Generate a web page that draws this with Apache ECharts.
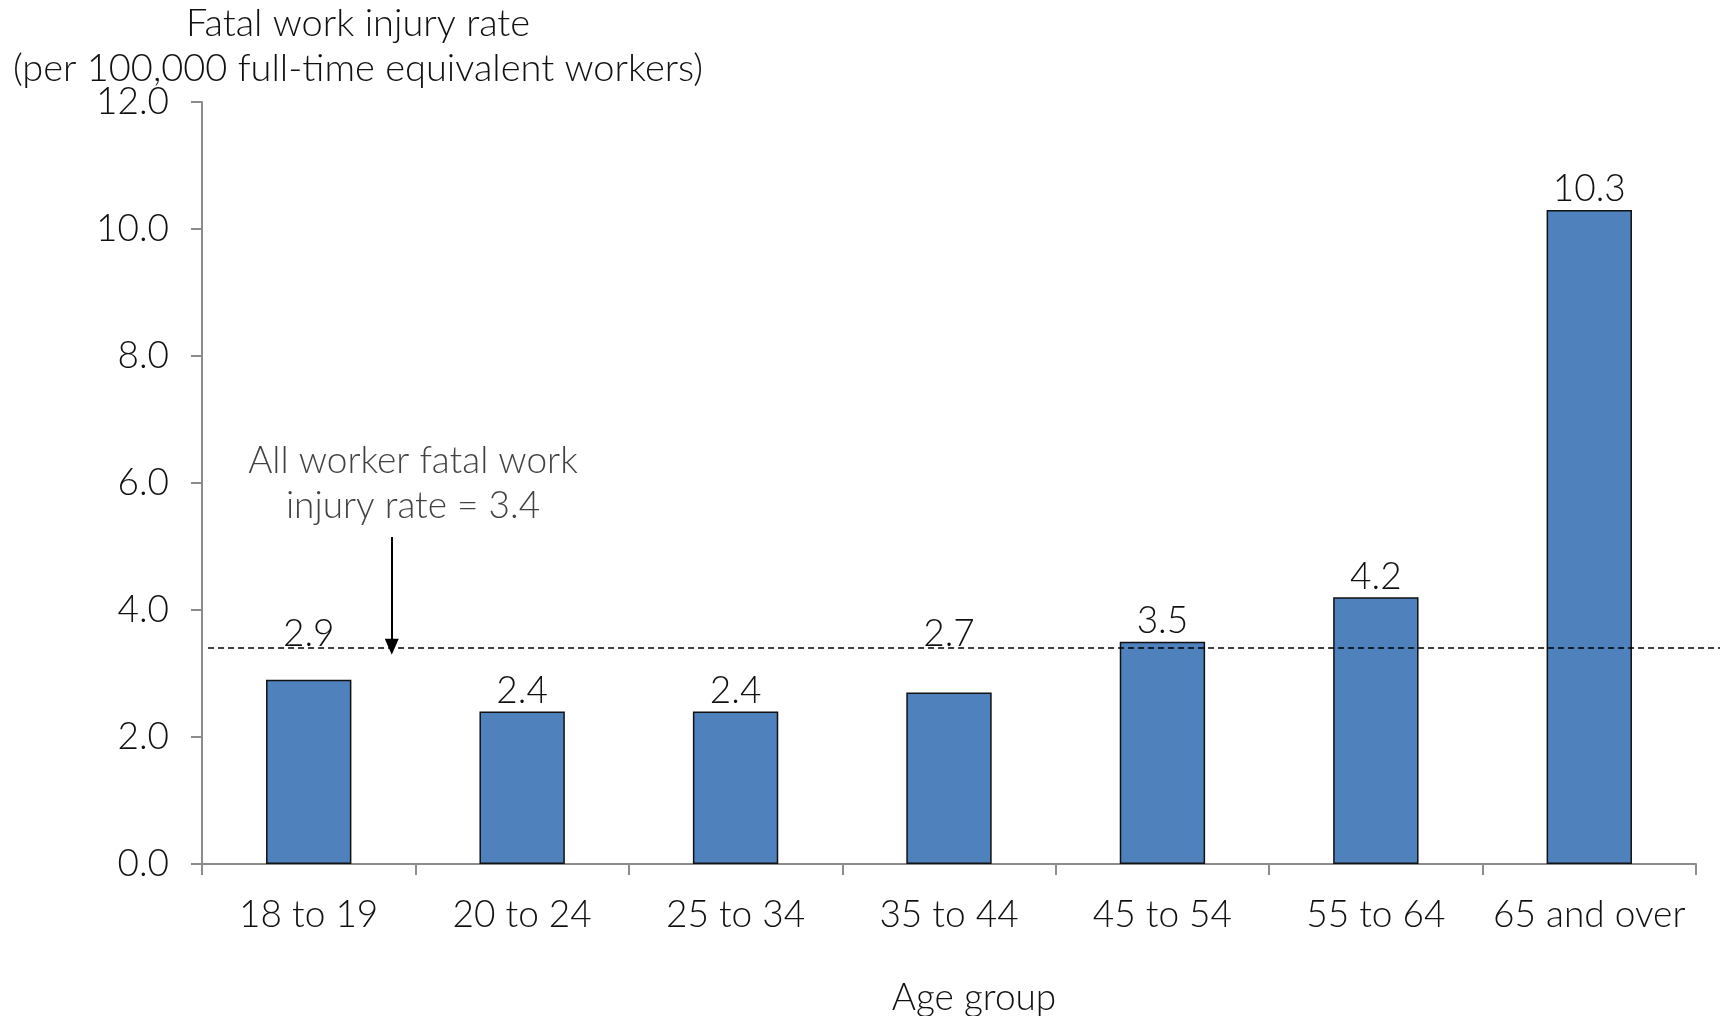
<!DOCTYPE html>
<html>
<head>
<meta charset="utf-8">
<script src="https://cdn.jsdelivr.net/npm/echarts@6/dist/echarts.min.js"></script>
<style>
  html, body { margin: 0; padding: 0; background: #ffffff; }
  #chart { width: 1720px; height: 1016px; }
</style>
</head>
<body>
<div id="chart"></div>
<script>
// ---- data ----
const categories = ['18 to 19', '20 to 24', '25 to 34', '35 to 44', '45 to 54', '55 to 64', '65 and over'];
const rates = [2.9, 2.4, 2.4, 2.7, 3.5, 4.2, 10.3];
const allWorkerRate = 3.4;
const yTicks = [0, 2, 4, 6, 8, 10, 12];
const annotationText = 'All worker fatal work\ninjury rate = 3.4';
const yTitle = 'Fatal work injury rate\n(per 100,000 full-time equivalent workers)';
const xTitle = 'Age group';

// ---- layout / style ----
const FONT = 'Lato';
const TXT = '#111111';
const FS = 37;
const GRID = { left: 202, right: 24, top: 102, bottom: 152 };
const plotH = 1016 - GRID.top - GRID.bottom;
const yMax = yTicks[yTicks.length - 1];
const ppu = plotH / yMax;

const barData = rates.map(v => {
  const item = { value: v };
  // lift labels that would collide with the reference line above it
  if (v < allWorkerRate && (allWorkerRate - v) * ppu < 45) {
    item.label = { offset: [0, -((allWorkerRate - v) * ppu) + 6] };
  }
  return item;
});

const chart = echarts.init(document.getElementById('chart'), null, { renderer: 'canvas' });
const option = {
  backgroundColor: '#ffffff',
  animation: false,
  textStyle: { fontFamily: FONT, fontWeight: 300, color: TXT },
  title: {
    text: yTitle,
    left: 353,
    top: -4,
    textAlign: 'center',
    textStyle: { fontFamily: FONT, fontWeight: 300, fontSize: 38, color: TXT, lineHeight: 45 }
  },
  grid: [
    { left: GRID.left, right: GRID.right, top: GRID.top, bottom: GRID.bottom, containLabel: false, outerBoundsMode: 'none' },
    { left: GRID.left, right: 0, top: GRID.top, bottom: GRID.bottom, containLabel: false, outerBoundsMode: 'none' }
  ],
  xAxis: [
    {
      type: 'category',
      gridIndex: 0,
      data: categories,
      boundaryGap: true,
      name: xTitle,
      nameLocation: 'middle',
      nameGap: 116,
      nameTextStyle: { fontFamily: FONT, fontWeight: 300, fontSize: FS, color: TXT, padding: [0, 0, 0, 50] },
      axisLine: { show: true, lineStyle: { color: '#8c8c8c', width: 2 } },
      axisTick: { show: true, alignWithLabel: false, interval: 0, length: 11, lineStyle: { color: '#8c8c8c', width: 2 } },
      axisLabel: { interval: 0, margin: 33, fontFamily: FONT, fontWeight: 300, fontSize: FS, color: TXT }
    },
    { type: 'value', gridIndex: 1, min: 0, max: 1, show: false }
  ],
  yAxis: [
    {
      type: 'value',
      gridIndex: 0,
      min: 0,
      max: yMax,
      interval: 2,
      axisLine: { show: true, lineStyle: { color: '#8c8c8c', width: 2 } },
      axisTick: { show: true, length: 11, lineStyle: { color: '#8c8c8c', width: 2 } },
      splitLine: { show: false },
      axisLabel: { margin: 33, fontFamily: FONT, fontWeight: 300, fontSize: FS, color: TXT, formatter: v => v.toFixed(1) }
    },
    { type: 'value', gridIndex: 1, min: 0, max: yMax, show: false }
  ],
  series: [
    {
      type: 'bar',
      xAxisIndex: 0,
      yAxisIndex: 0,
      data: barData,
      barWidth: '40%',
      itemStyle: { color: '#4f81bd', borderColor: '#111111', borderWidth: 1.5 },
      label: {
        show: true,
        position: 'top',
        distance: 2,
        fontFamily: FONT, fontWeight: 300, fontSize: FS, color: TXT,
        formatter: p => p.value.toFixed(1)
      },
      z: 2
    },
    {
      type: 'line',
      xAxisIndex: 1,
      yAxisIndex: 1,
      data: [[0.004, allWorkerRate], [1, allWorkerRate]],
      symbol: 'none',
      lineStyle: { color: '#000000', width: 1.5, type: [6, 4] },
      z: 3,
      markLine: {
        silent: true,
        symbol: ['none', 'triangle'],
        symbolSize: [14, 16],
        label: { show: false },
        lineStyle: { color: '#000000', width: 2, type: 'solid' },
        data: [[{ coord: [0.125, 5.15] }, { coord: [0.125, allWorkerRate + 0.02] }]]
      }
    },
    {
      type: 'scatter',
      xAxisIndex: 1,
      yAxisIndex: 1,
      data: [[0.139, 5.99]],
      symbolSize: 0,
      silent: true,
      label: {
        show: true,
        position: 'inside',
        align: 'center',
        verticalAlign: 'middle',
        fontFamily: FONT, fontWeight: 300, fontSize: FS, color: TXT, lineHeight: 45,
        formatter: () => annotationText
      }
    }
  ]
};
chart.setOption(option);
</script>
</body>
</html>
